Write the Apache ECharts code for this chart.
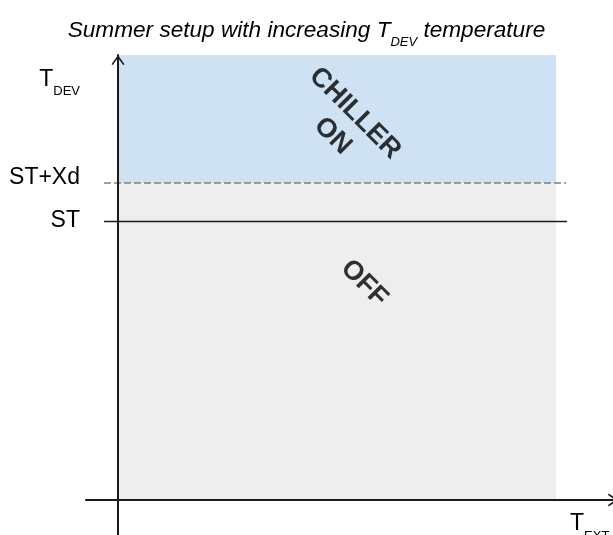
<!DOCTYPE html>
<html><head><meta charset="utf-8">
<script src="https://cdn.jsdelivr.net/npm/echarts@6/dist/echarts.min.js"></script>
<style>html,body{margin:0;padding:0;background:#fff}#c{width:613px;height:535px}</style>
</head><body><div id="c"></div>
<script>
// ---- data ----
const titleText = 'Summer setup with increasing T{sub|DEV} temperature';
const yTickValues = [62.7, 72.4, 94.4];
const yTickLabels = ['ST', 'ST+Xd', 'T{sub|DEV}'];
const xAxisName = 'T{sub|EXT}';
const thresholdST = 62.7;
const thresholdSTXd = 71.2;
const regionX = [0, 100];
const regionY = [0, 100];
const lineX = [-3.2, 102.5];
const zoneLabels = ['CHILLER', 'ON', 'OFF'];
const zoneLabelX = [54.1, 49.0, 56.2];
const zoneLabelY = [86.9, 81.8, 48.7];
const xRange = [-7.3, 113.0];
const yRange = [-7.87, 100];

// ---- chart ----
const FONT = '"Liberation Sans", Arial, sans-serif';
const arrowPath = 'path://M0,9.2 L6.5,0 L13,9.2 L11.6,10 L6.5,2.8 L1.4,10 Z';
const subRich = (size, italic) => ({
  sub: { fontSize: size, lineHeight: size, verticalAlign: 'bottom', fontFamily: FONT, color: '#000', fontStyle: italic ? 'italic' : 'normal' }
});

const chart = echarts.init(document.getElementById('c'), null, { renderer: 'canvas' });
chart.setOption({
  animation: false,
  title: {
    text: titleText,
    left: 'center',
    top: 13,
    padding: 0,
    textStyle: {
      fontFamily: FONT, fontSize: 22.6, fontStyle: 'italic', fontWeight: 'normal',
      color: '#000', lineHeight: 36,
      rich: subRich(13, true)
    }
  },
  grid: { left: 86, right: 0, top: 55, bottom: 0, containLabel: false, outerBoundsMode: 'none' },
  xAxis: {
    type: 'value', min: xRange[0], max: xRange[1], z: 10,
    axisLine: { show: true, onZero: true, lineStyle: { color: '#1a1a1a', width: 2 },
      symbol: ['none', arrowPath], symbolSize: [13, 10], symbolOffset: [0, 0] },
    axisTick: { show: false }, axisLabel: { show: false }, splitLine: { show: false },
    name: xAxisName, nameLocation: 'end', nameGap: -43,
    nameTextStyle: { fontFamily: FONT, fontSize: 23, color: '#000', align: 'left', verticalAlign: 'top',
      lineHeight: 38, padding: [5, 0, 0, 0], rich: subRich(13, false) }
  },
  yAxis: {
    type: 'value', min: yRange[0], max: yRange[1], z: 10,
    axisLine: { show: true, onZero: true, lineStyle: { color: '#1a1a1a', width: 2 },
      symbol: ['none', arrowPath], symbolSize: [13, 10], symbolOffset: [0, -5] },
    axisTick: { show: false }, splitLine: { show: false },
    axisLabel: {
      show: true, customValues: yTickValues, margin: 6,
      fontFamily: FONT, fontSize: 23, color: '#000', lineHeight: 36,
      formatter: function (v) {
        let best = 0;
        for (let i = 0; i < yTickValues.length; i++) {
          if (Math.abs(yTickValues[i] - v) < Math.abs(yTickValues[best] - v)) best = i;
        }
        return yTickLabels[best];
      },
      rich: subRich(13, false)
    }
  },
  series: [{
    type: 'scatter',
    symbolSize: 0,
    silent: true,
    data: zoneLabels.map((t, i) => [zoneLabelX[i], zoneLabelY[i], t]),
    label: {
      show: true, position: 'inside', rotate: -45,
      formatter: p => p.data[2],
      fontFamily: FONT, fontSize: 27, fontWeight: 'bold', color: '#000'
    },
    markArea: {
      silent: true,
      data: [
        [{ coord: [regionX[0], thresholdSTXd], itemStyle: { color: '#cfe2f3' } }, { coord: [regionX[1], regionY[1]] }],
        [{ coord: [regionX[0], regionY[0]], itemStyle: { color: '#eeeeee' } }, { coord: [regionX[1], thresholdSTXd] }]
      ]
    },
    markLine: {
      silent: true, symbol: 'none', label: { show: false },
      data: [
        [{ coord: [lineX[0], thresholdSTXd], lineStyle: { color: '#808080', width: 1.5, type: [7, 3] } },
         { coord: [lineX[1] - 0.2, thresholdSTXd] }],
        [{ coord: [lineX[0], thresholdST], lineStyle: { color: '#1a1a1a', width: 1.3, type: 'solid' } },
         { coord: [lineX[1], thresholdST] }]
      ]
    }
  }]
});
</script>
</body></html>
